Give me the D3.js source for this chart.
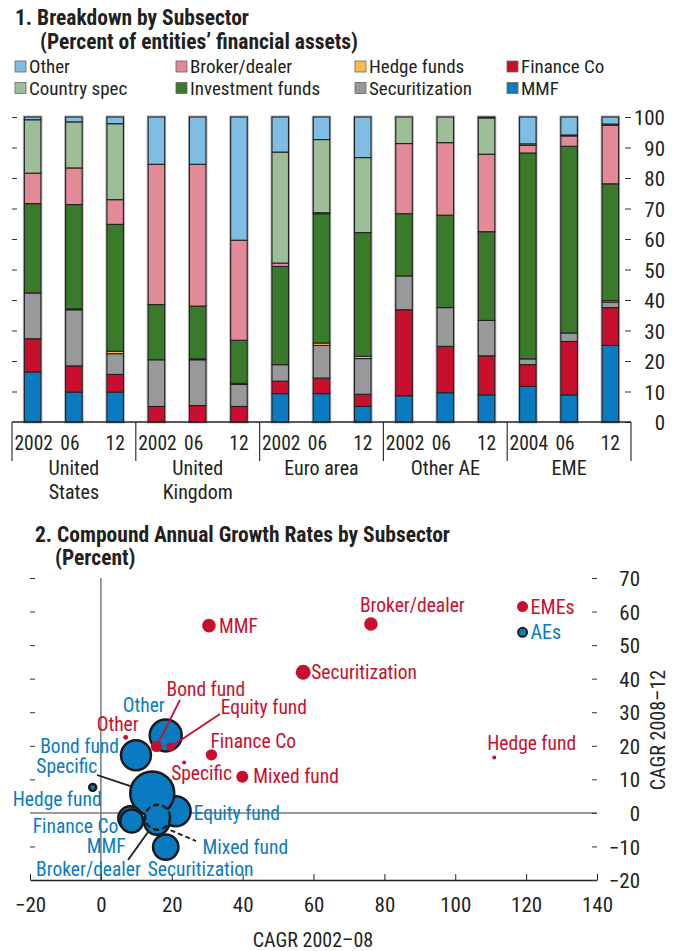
<!DOCTYPE html>
<html>
<head>
<meta charset="utf-8">
<script src="https://cdn.jsdelivr.net/npm/d3@7"></script>
<style>
  body { margin: 0; background: #fff; }
  svg text { font-family: "Liberation Sans Narrow", "Arial Narrow", "Roboto Condensed", "Liberation Sans", sans-serif; fill: #231f20; }
</style>
</head>
<body>
<script>
// ---- panel 1 data (percent of entities' financial assets) ----
const groupNames = ["United States", "United Kingdom", "Euro area", "Other AE", "EME"];
const groupLabels = [["United", "States"], ["United", "Kingdom"], ["Euro area"], ["Other AE"], ["EME"]];
const yearLabels = [["2002", "06", "12"], ["2002", "06", "12"], ["2002", "06", "12"], ["2002", "06", "12"], ["2004", "06", "12"]];
const subsectors = ["MMF", "Finance Co", "Securitization", "Hedge funds", "Investment funds", "Broker/dealer", "Country spec", "Other"];

const mmf             = [16.4, 9.8, 9.8, 0, 0, 0, 9.3, 9.3, 5.1, 8.6, 9.6, 8.9, 11.7, 8.9, 25.1];
const financeCo       = [10.9, 8.6, 5.8, 5.1, 5.4, 5.1, 4.1, 5.1, 4.0, 28.2, 15.2, 12.8, 7.1, 17.5, 12.4];
const securitization  = [15.0, 18.4, 6.8, 15.3, 15.0, 7.2, 5.4, 10.7, 11.7, 11.1, 12.7, 11.6, 1.9, 2.8, 1.8];
const hedgeFunds      = [0, 0.3, 0.8, 0, 0.3, 0.4, 0, 0.8, 0.7, 0, 0, 0, 0, 0, 0.5];
const investmentFunds = [29.3, 34.2, 41.6, 18.1, 17.3, 14.1, 32.2, 42.4, 40.6, 20.4, 30.3, 29.1, 67.5, 61.2, 38.3];
const brokerDealer    = [10.0, 12.0, 8.1, 46.0, 46.5, 32.8, 1.1, 0.3, 0, 23.0, 23.8, 25.4, 2.5, 3.4, 19.2];
const countrySpec     = [17.5, 15.1, 24.9, 0, 0, 0, 36.4, 24.0, 24.6, 8.7, 8.4, 11.9, 0.5, 0.3, 0.4];
const otherSub        = [0.9, 1.6, 2.2, 15.5, 15.5, 40.4, 11.5, 7.4, 13.3, 0, 0, 0.3, 8.8, 5.9, 2.3];
const pctTicks = [0, 10, 20, 30, 40, 50, 60, 70, 80, 90, 100];

// ---- panel 2 data (CAGR, percent; size = relative assets) ----
const emeNames = ["MMF", "Securitization", "Broker/dealer", "Finance Co", "Mixed fund", "Bond fund", "Equity fund", "Specific", "Other", "Hedge fund"];
const emeCagr0208 = [30.5, 57.1, 76.2, 31.2, 39.9, 15.7, 19.7, 23.5, 7.0, 111];
const emeCagr0812 = [55.8, 41.9, 56.3, 17.3, 10.8, 19.8, 19.7, 15.0, 22.5, 16.5];
const emeSize     = [46, 56, 46, 32, 36, 32, 18, 4, 6, 4];

const aeNames = ["Equity fund", "Specific", "Finance Co", "MMF", "Broker/dealer", "Mixed fund", "Securitization", "Bond fund", "Other", "Hedge fund"];
const aeCagr0208 = [21.1, 14.5, 8.3, 8.7, 15.8, 16.0, 18.3, 9.9, 18.3, -2.3];
const aeCagr0812 = [0.5, 5.8, -1.6, -2.4, -2.8, -1.3, -10.2, 17.2, 23.1, 7.6];
const aeSize     = [225, 484, 144, 132, 156, 156, 161, 225, 256, 12];
const xTicks2 = [-20, 0, 20, 40, 60, 80, 100, 120, 140];
const yTicks2 = [-20, -10, 0, 10, 20, 30, 40, 50, 60, 70];

const colors = {
  "MMF": "#0a7bc1", "Finance Co": "#c8102e", "Securitization": "#98999b", "Hedge funds": "#fdb94d",
  "Investment funds": "#3a7b2b", "Broker/dealer": "#e38a99", "Country spec": "#9dbe96", "Other": "#80bde3"
};
const red = "#c8102e", blue = "#0a7bc1";

const W = 675, H = 951;
const svg = d3.select("body").append("svg").attr("width", W).attr("height", H);

// ================= panel 1 =================
svg.append("text").attr("x", 15).attr("y", 25).attr("font-size", 21.5).attr("font-weight", "bold")
  .text("1. Breakdown by Subsector");
svg.append("text").attr("x", 40).attr("y", 49).attr("font-size", 21.5).attr("font-weight", "bold")
  .text("(Percent of entities’ financial assets)");

const legendRows = [["Other", "Broker/dealer", "Hedge funds", "Finance Co"],
                    ["Country spec", "Investment funds", "Securitization", "MMF"]];
const legendX = [15, 176, 355, 507];
legendRows.forEach((row, r) => {
  row.forEach((name, c) => {
    const g = svg.append("g").attr("transform", `translate(${legendX[c]},${66.5 + r * 21.5})`);
    g.append("rect").attr("x", 0).attr("y", -5.5).attr("width", 11).attr("height", 11)
      .attr("fill", colors[name]).attr("stroke", "#666").attr("stroke-width", 0.8);
    g.append("text").attr("x", 14).attr("y", 6.5).attr("font-size", 19).text(name);
  });
});

const series = [mmf, financeCo, securitization, hedgeFunds, investmentFunds, brokerDealer, countrySpec, otherSub];
const rows = d3.range(mmf.length).map(i => {
  const o = { i: i };
  subsectors.forEach((k, j) => o[k] = series[j][i]);
  return o;
});
const stacked = d3.stack().keys(subsectors)(rows);

const x1 = d3.scaleBand().domain(d3.range(rows.length)).range([12, 631]).paddingInner(0.6).paddingOuter(0.3);
const y1 = d3.scaleLinear().domain([0, 100]).range([422, 117]);

// soft halo behind each bar
svg.append("g").selectAll("rect").data(rows).join("rect")
  .attr("x", d => x1(d.i)).attr("width", x1.bandwidth())
  .attr("y", y1(100)).attr("height", y1(0) - y1(100))
  .attr("fill", "none").attr("stroke", "#b5b5b5").attr("stroke-width", 3);

svg.append("g").selectAll("g").data(stacked).join("g")
  .attr("fill", s => colors[s.key])
  .selectAll("rect").data(s => s.filter(d => d[1] - d[0] > 0)).join("rect")
  .attr("x", d => x1(d.data.i)).attr("width", x1.bandwidth())
  .attr("y", d => y1(d[1])).attr("height", d => y1(d[0]) - y1(d[1]))
  .attr("stroke", "#222").attr("stroke-width", 1.1);

// axes
const yAxisR = d3.axisRight(y1).tickValues(pctTicks).tickSize(6).tickFormat(d3.format("d"));
const gR = svg.append("g").attr("transform", "translate(625,0)").call(yAxisR);
gR.select(".domain").remove();
gR.selectAll("line").attr("stroke", "#333");
gR.selectAll("text").attr("x", 40).attr("text-anchor", "end").attr("font-size", 21).attr("dy", "0.36em");

const yAxisL = d3.axisRight(y1).tickValues(pctTicks.slice(1)).tickSize(5).tickFormat("");
const gL = svg.append("g").attr("transform", "translate(12,0)").call(yAxisL);
gL.select(".domain").remove();
gL.selectAll("line").attr("stroke", "#333");

svg.append("line").attr("x1", 12).attr("x2", 631).attr("y1", y1(0)).attr("y2", y1(0))
  .attr("stroke", "#222").attr("stroke-width", 1.5);

const groupW = (631 - 12) / groupNames.length;
d3.range(groupNames.length + 1).forEach(i => {
  svg.append("line").attr("x1", 12 + i * groupW).attr("x2", 12 + i * groupW)
    .attr("y1", y1(0)).attr("y2", 461).attr("stroke", "#333").attr("stroke-width", 1.2);
});
const yearShift = [1, -4, 0];
rows.forEach(d => {
  const g = Math.floor(d.i / 3);
  svg.append("text").attr("x", x1(d.i) + x1.bandwidth() / 2 + yearShift[d.i % 3])
    .attr("y", 450).attr("text-anchor", "middle").attr("font-size", 19.5)
    .text(yearLabels[g][d.i % 3]);
});
groupLabels.forEach((lines, g) => {
  const t = svg.append("text").attr("x", 12 + (g + 0.5) * groupW).attr("y", 475)
    .attr("text-anchor", "middle").attr("font-size", 20);
  lines.forEach((s, k) => t.append("tspan").attr("x", 12 + (g + 0.5) * groupW).attr("dy", k ? 24 : 0).text(s));
});

// ================= panel 2 =================
svg.append("text").attr("x", 35).attr("y", 542).attr("font-size", 21.5).attr("font-weight", "bold")
  .text("2. Compound Annual Growth Rates by Subsector");
svg.append("text").attr("x", 55).attr("y", 565).attr("font-size", 21.5).attr("font-weight", "bold")
  .text("(Percent)");

const x2 = d3.scaleLinear().domain([-20, 140]).range([30, 597]);
const y2 = d3.scaleLinear().domain([-20, 70]).range([880, 578]);
const r2 = d3.scaleSqrt().domain([0, 484]).range([0, 22]);

// zero lines
svg.append("line").attr("x1", x2(0)).attr("x2", x2(0)).attr("y1", y2(70)).attr("y2", y2(-20))
  .attr("stroke", "#7a7a7a").attr("stroke-width", 1.5);
svg.append("line").attr("x1", x2(-20)).attr("x2", x2(140)).attr("y1", y2(0)).attr("y2", y2(0))
  .attr("stroke", "#7a7a7a").attr("stroke-width", 1.5);

// x axis
const xAxis2 = d3.axisBottom(x2).tickValues(xTicks2).tickSize(0).tickPadding(17).tickFormat(d => d < 0 ? "−" + Math.abs(d) : d);
const gx = svg.append("g").attr("transform", `translate(0,${y2(-20)})`).call(xAxis2);
gx.select(".domain").attr("stroke", "#222").attr("stroke-width", 1.5);
gx.selectAll("text").attr("font-size", 21);
gx.selectAll(".tick").append("line").attr("y1", 0).attr("y2", -6).attr("stroke", "#222");

// y axis right
const yAxis2 = d3.axisRight(y2).tickValues(yTicks2).tickSize(5).tickFormat(d => d < 0 ? "−" + Math.abs(d) : d);
const gy = svg.append("g").attr("transform", "translate(592,0)").call(yAxis2);
gy.select(".domain").remove();
gy.selectAll("line").attr("stroke", "#333");
gy.selectAll("text").attr("x", 48).attr("text-anchor", "end").attr("font-size", 21).attr("dy", "0.36em");

const yAxis2L = d3.axisRight(y2).tickValues(yTicks2.filter(v => v > -20 && v !== 0)).tickSize(5).tickFormat("");
const gyl = svg.append("g").attr("transform", "translate(30,0)").call(yAxis2L);
gyl.select(".domain").remove();
gyl.selectAll("line").attr("stroke", "#333");

svg.append("text").attr("x", 313).attr("y", 947).attr("text-anchor", "middle").attr("font-size", 20)
  .text("CAGR 2002–08");
svg.append("text").attr("transform", "translate(665,730) rotate(-90)").attr("text-anchor", "middle")
  .attr("font-size", 20).text("CAGR 2008–12");

const ae = aeNames.map((n, i) => ({ name: n, x: aeCagr0208[i], y: aeCagr0812[i], s: aeSize[i] }));
const eme = emeNames.map((n, i) => ({ name: n, x: emeCagr0208[i], y: emeCagr0812[i], s: emeSize[i] }));

// label placement (pixel offsets from point)
const aeLabel = {
  "Other": [-43, -23, "start"], "Bond fund": [-17, -2, "end"], "Specific": [-55, -20, "end"],
  "Hedge fund": [-80, 19, "start"], "Equity fund": [18, 9, "start"], "Finance Co": [-12, 15, "end"],
  "MMF": [-6, 32, "end"], "Mixed fund": [45, 37, "start"], "Broker/dealer": [-16, 54, "end"],
  "Securitization": [-18, 29, "start"]
};
const emeLabel = {
  "MMF": [10, 7, "start"], "Securitization": [8, 7, "start"], "Broker/dealer": [-11, -12, "start"],
  "Hedge fund": [-7, -8, "start"], "Finance Co": [-1, -7, "start"], "Mixed fund": [11, 6, "start"],
  "Specific": [-13, 17, "start"], "Other": [-29, -6, "start"], "Bond fund": [10, -50, "start"],
  "Equity fund": [50, -33, "start"]
};

const P = d => [x2(d.x), y2(d.y)];
const aeBy = Object.fromEntries(ae.map(d => [d.name, d]));
const emeBy = Object.fromEntries(eme.map(d => [d.name, d]));

svg.append("g").selectAll("circle").data(ae).join("circle")
  .attr("cx", d => x2(d.x)).attr("cy", d => y2(d.y)).attr("r", d => r2(d.s))
  .attr("fill", blue).attr("stroke", "#1a1a1a").attr("stroke-width", 2.5)
  .attr("stroke-dasharray", d => d.name === "Mixed fund" ? "6,3" : null);

const leader = (p, q, col, dash) => svg.append("line")
  .attr("x1", p[0]).attr("y1", p[1]).attr("x2", q[0]).attr("y2", q[1])
  .attr("stroke", col).attr("stroke-width", 1.8).attr("stroke-dasharray", dash || null);

let p = P(aeBy["Specific"]);  leader([97, 775], [p[0] - 21, p[1] - 7], "#1a1a1a");
p = P(aeBy["Broker/dealer"]); leader([128, 860], [p[0] - 9, p[1] + 10], "#1a1a1a");
p = P(aeBy["Mixed fund"]);    leader([p[0] + 13, p[1] + 13], [196, 841], "#1a1a1a", "5,3");

ae.forEach(d => {
  const [dx, dy, anc] = aeLabel[d.name];
  svg.append("text").attr("x", x2(d.x) + dx).attr("y", y2(d.y) + dy).attr("text-anchor", anc)
    .attr("font-size", 19.5).style("fill", blue).text(d.name);
});

// EME points
p = P(emeBy["Bond fund"]);   leader([180, 700], p, red);
p = P(emeBy["Equity fund"]); leader([220, 714], p, red);
svg.append("g").selectAll("circle").data(eme).join("circle")
  .attr("cx", d => x2(d.x)).attr("cy", d => y2(d.y)).attr("r", d => r2(d.s)).attr("fill", red);
eme.forEach(d => {
  const [dx, dy, anc] = emeLabel[d.name];
  svg.append("text").attr("x", x2(d.x) + dx).attr("y", y2(d.y) + dy).attr("text-anchor", anc)
    .attr("font-size", 19.5).style("fill", red).text(d.name);
});

// key
const keyX = 119, keyE = 61.5, keyA = 53.8;
svg.append("circle").attr("cx", x2(keyX)).attr("cy", y2(keyE)).attr("r", 5.5).attr("fill", red);
svg.append("text").attr("x", x2(keyX) + 8).attr("y", y2(keyE) + 7).attr("font-size", 20).style("fill", red).text("EMEs");
svg.append("circle").attr("cx", x2(keyX)).attr("cy", y2(keyA)).attr("r", 4.5).attr("fill", blue)
  .attr("stroke", "#1a1a1a").attr("stroke-width", 2);
svg.append("text").attr("x", x2(keyX) + 8).attr("y", y2(keyA) + 7).attr("font-size", 20).style("fill", blue).text("AEs");
</script>
</body>
</html>
